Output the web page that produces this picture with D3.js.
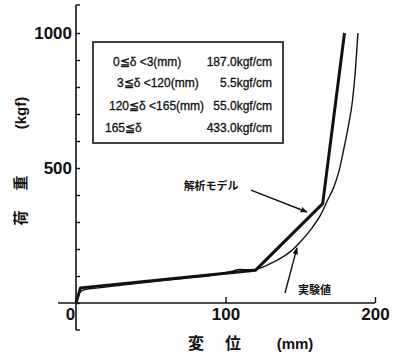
<!DOCTYPE html>
<html>
<head>
<meta charset="utf-8">
<script src="https://cdn.jsdelivr.net/npm/d3@7"></script>
<style>
  body { margin: 0; background: #fff; }
  svg { font-family: "Liberation Sans", Arial, sans-serif; }
  .tick text { font-size: 17px; font-weight: bold; fill: #111; }
  .lg { font-size: 12px; fill: #111; stroke: #111; stroke-width: 0.3px; }
  .jp { font-family: "Noto Sans CJK JP", sans-serif; font-weight: bold; fill: #111; }
</style>
</head>
<body>
<script>
// analysis model (piecewise linear)
var modelX = [0, 3, 120, 165, 179.6];
var modelY = [0, 56, 121, 368, 1000];

// experimental curve
var testX = [0, 1.5, 3, 6, 15, 40, 70, 95, 103, 110, 115, 120, 125, 130, 137, 144, 150, 157, 164, 168, 172.5, 176, 179, 182, 185, 187, 188.6];
var testY = [0, 30, 42, 50, 56, 72, 90, 106, 116, 124, 123, 124, 133, 146, 166, 193, 226, 272, 330, 378, 430, 490, 567, 650, 752, 870, 1000];

var xTicks = [0, 100, 200];
var yTicks = [0, 100, 200, 300, 400, 500, 600, 700, 800, 900, 1000];
var yLabels = [500, 1000];

var legendLeft = ["0≦δ <3(mm)", "3≦δ <120(mm)", "120≦δ <165(mm)", "165≦δ"];
var legendRight = ["187.0kgf/cm", "5.5kgf/cm", "55.0kgf/cm", "433.0kgf/cm"];

var W = 397, H = 357;
var x = d3.scaleLinear().domain([0, 200]).range([76, 375]);
var y = d3.scaleLinear().domain([0, 1000]).range([303, 33]);

var svg = d3.select("body").append("svg")
    .attr("width", W)
    .attr("height", H);

// axis lines, extended past the ticks like the original frame
svg.append("line")
    .attr("x1", x(-12)).attr("x2", x(200))
    .attr("y1", y(0)).attr("y2", y(0))
    .attr("stroke", "#111").attr("stroke-width", 1.6);
svg.append("line")
    .attr("x1", x(0)).attr("x2", x(0))
    .attr("y1", y(1104)).attr("y2", y(-100))
    .attr("stroke", "#111").attr("stroke-width", 1.6);
// end ticks on the y axis
[1104, -100].forEach(function(v) {
  svg.append("line")
    .attr("x1", x(0)).attr("x2", x(0) + 4)
    .attr("y1", y(v)).attr("y2", y(v))
    .attr("stroke", "#111").attr("stroke-width", 1.4);
});

var xAxis = d3.axisBottom(x).tickValues(xTicks)
    .tickSizeInner(-6).tickSizeOuter(0).tickPadding(5);
var gx = svg.append("g")
    .attr("transform", "translate(0," + y(0) + ")")
    .call(xAxis);
gx.select(".domain").remove();
gx.selectAll(".tick line").attr("stroke", "#111").attr("stroke-width", 1.4);
gx.selectAll(".tick text").attr("dx", function(d) { return d === 0 ? -6 : 0; });

var yAxis = d3.axisLeft(y).tickValues(yTicks)
    .tickSizeInner(-4).tickSizeOuter(0).tickPadding(4)
    .tickFormat(function(d) { return yLabels.indexOf(d) >= 0 ? d : ""; });
var gy = svg.append("g")
    .attr("transform", "translate(" + x(0) + ",0)")
    .call(yAxis);
gy.select(".domain").remove();
gy.selectAll(".tick line").attr("stroke", "#111").attr("stroke-width", 1.4);

// axis titles
function vtext(t, cx, cy, size) {
  svg.append("text")
    .attr("class", "jp")
    .attr("transform", "translate(" + cx + "," + cy + ") rotate(-90)")
    .attr("text-anchor", "middle")
    .attr("dy", "0.35em")
    .style("font-size", size + "px")
    .text(t);
}
vtext("荷", 21, 218, 15);
vtext("重", 21, 183, 15);
svg.append("text")
    .attr("transform", "translate(21,113) rotate(-90)")
    .attr("text-anchor", "middle")
    .attr("dy", "0.35em")
    .style("font-size", "15px").style("font-weight", "bold").attr("fill", "#111")
    .text("(kgf)");

svg.append("text").attr("class", "jp")
    .attr("x", 196).attr("y", 349).attr("text-anchor", "middle")
    .style("font-size", "16px").text("変");
svg.append("text").attr("class", "jp")
    .attr("x", 233).attr("y", 349).attr("text-anchor", "middle")
    .style("font-size", "16px").text("位");
svg.append("text")
    .attr("x", 295).attr("y", 349).attr("text-anchor", "middle")
    .style("font-size", "15px").style("font-weight", "bold").attr("fill", "#111")
    .text("(mm)");

// curves
var model = modelX.map(function(d, i) { return [d, modelY[i]]; });
var test = testX.map(function(d, i) { return [d, testY[i]]; });

var lineLin = d3.line()
    .x(function(d) { return x(d[0]); })
    .y(function(d) { return y(d[1]); });
var lineSmooth = d3.line()
    .x(function(d) { return x(d[0]); })
    .y(function(d) { return y(d[1]); })
    .curve(d3.curveMonotoneX);

svg.append("path")
    .datum(test)
    .attr("d", lineSmooth)
    .attr("fill", "none")
    .attr("stroke", "#111")
    .attr("stroke-width", 1.4);

svg.append("path")
    .datum(model)
    .attr("d", lineLin)
    .attr("fill", "none")
    .attr("stroke", "#111")
    .attr("stroke-width", 3)
    .attr("stroke-linejoin", "round");

// legend box
svg.append("rect")
    .attr("x", 93).attr("y", 42)
    .attr("width", 190).attr("height", 101)
    .attr("fill", "none")
    .attr("stroke", "#111")
    .attr("stroke-width", 1.6);

var leftX = [113, 117, 109, 105];
var rowY = [66, 87, 110, 132];
legendLeft.forEach(function(t, i) {
  svg.append("text").attr("class", "lg")
    .attr("x", leftX[i]).attr("y", rowY[i])
    .text(t);
  svg.append("text").attr("class", "lg")
    .attr("x", 272).attr("y", rowY[i])
    .attr("text-anchor", "end")
    .text(legendRight[i]);
});

// annotations with arrows
svg.append("defs").append("marker")
    .attr("id", "head")
    .attr("viewBox", "0 0 10 10")
    .attr("refX", 9).attr("refY", 5)
    .attr("markerWidth", 7).attr("markerHeight", 7)
    .attr("markerUnits", "userSpaceOnUse")
    .attr("orient", "auto")
  .append("path")
    .attr("d", "M0,1 L10,5 L0,9 Z")
    .attr("fill", "#111");

svg.append("line")
    .attr("x1", x(117)).attr("y1", y(418))
    .attr("x2", x(154.5)).attr("y2", y(337))
    .attr("stroke", "#111").attr("stroke-width", 1.4)
    .attr("marker-end", "url(#head)");
svg.append("text").attr("class", "jp")
    .attr("x", x(72)).attr("y", y(418))
    .style("font-size", "11px")
    .text("解析モデル");

svg.append("line")
    .attr("x1", x(139.8)).attr("y1", y(37))
    .attr("x2", x(147.8)).attr("y2", y(204))
    .attr("stroke", "#111").attr("stroke-width", 1.4)
    .attr("marker-end", "url(#head)");
svg.append("text").attr("class", "jp")
    .attr("x", x(148.5)).attr("y", y(33))
    .style("font-size", "11px")
    .text("実験値");
</script>
</body>
</html>
